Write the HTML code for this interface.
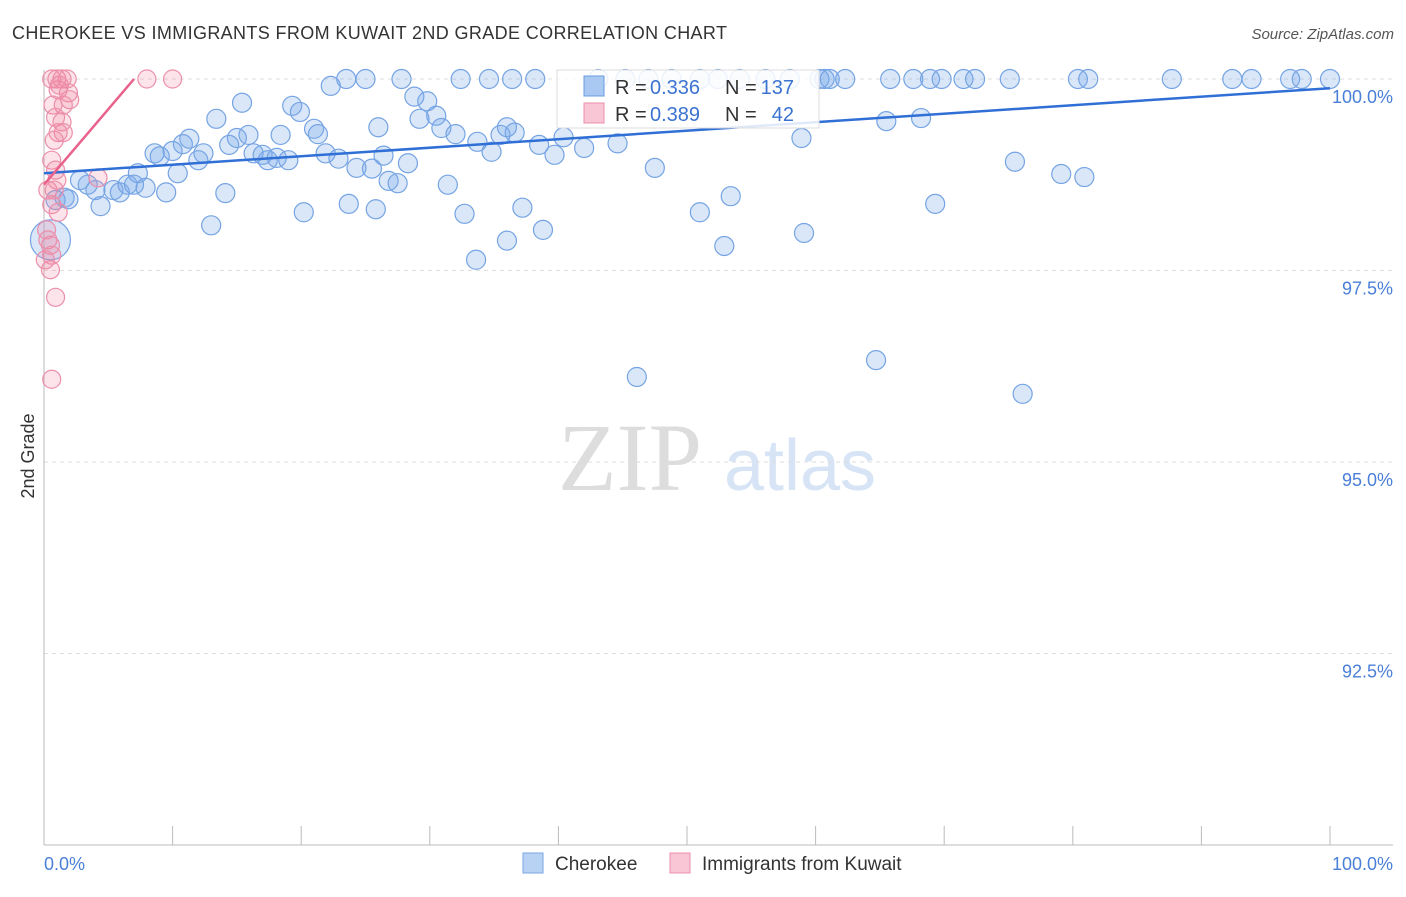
<!DOCTYPE html>
<html><head><meta charset="utf-8"><style>
body{margin:0;background:#fff;font-family:"Liberation Sans",sans-serif}
</style></head><body>
<svg width="1406" height="892" xmlns="http://www.w3.org/2000/svg" id="chart">
<text x="12" y="39" font-size="18" fill="#333" letter-spacing="0.37">CHEROKEE VS IMMIGRANTS FROM KUWAIT 2ND GRADE CORRELATION CHART</text>
<text x="1394" y="39" font-size="15" fill="#555" text-anchor="end" font-style="italic">Source: ZipAtlas.com</text>
<text x="630" y="490" font-size="96" fill="#ddd" text-anchor="middle" font-family="Liberation Serif,serif">ZIP</text>
<text x="800" y="490" font-size="72" fill="#d6e4f5" text-anchor="middle">atlas</text>
<g id="grid"></g><g id="axes"></g><g id="pts"></g><g id="trend"></g>
<text transform="translate(34,456) rotate(-90)" font-size="18" fill="#333" text-anchor="middle">2nd Grade</text>
<g>
<rect x="557" y="70" width="262" height="58" fill="#fff" fill-opacity="0.85" stroke="#ddd"/>
<rect x="584" y="76" width="20" height="20" fill="#a9c8f2" stroke="#6b9de0"/>
<text x="615" y="94" font-size="20" fill="#333">R =</text>
<text x="650" y="94" font-size="20" fill="#3b73d1">0.336</text>
<text x="725" y="94" font-size="20" fill="#333">N =</text>
<text x="794" y="94" font-size="20" fill="#3b73d1" text-anchor="end">137</text>
<rect x="584" y="103" width="20" height="20" fill="#f8c6d4" stroke="#ec8fab"/>
<text x="615" y="121" font-size="20" fill="#333">R =</text>
<text x="650" y="121" font-size="20" fill="#3b73d1">0.389</text>
<text x="725" y="121" font-size="20" fill="#333">N =</text>
<text x="794" y="121" font-size="20" fill="#3b73d1" text-anchor="end">42</text>
</g>
<g>
<rect x="523" y="853" width="20" height="20" fill="#b8d2f4" stroke="#7aa6e2"/>
<text x="555" y="870" font-size="19" fill="#333">Cherokee</text>
<rect x="670" y="853" width="20" height="20" fill="#f8c6d4" stroke="#ec8fab"/>
<text x="702" y="870" font-size="19" fill="#333">Immigrants from Kuwait</text>
</g>
</svg>
<script>
const blueX=[23.5,25.0,27.8,32.4,34.6,36.4,38.2,43.1,45.2,47.0,48.8,51.0,52.4,54.1,56.1,58.0,60.3,60.7,61.1,62.3,65.8,67.6,68.9,69.8,71.5,72.4,75.1,80.4,81.2,87.7,92.4,93.9,96.9,97.8,100,
22.3,28.8,29.8,15.4,19.3,19.9,13.4,29.2,30.5,30.9,21.0,21.3,32.0,26.0,11.3,15.0,15.9,18.4,10.8,14.4,33.7,35.5,36.6,38.5,40.4,44.6,42.0,8.6,9.0,10.0,12.4,16.3,17.0,17.4,18.1,19.0,21.9,22.9,26.4,28.3,34.8,39.7,24.3,25.5,12.0,7.3,10.4,47.5,75.5,79.1,80.9,2.8,3.4,4.0,5.4,5.9,6.5,7.0,7.9,9.5,14.1,26.8,27.5,31.4,53.4,4.4,20.2,23.7,25.8,32.7,37.2,51.0,69.3,13.0,36.0,38.8,52.9,59.1,33.6,65.5,68.2,58.9,36.0,46.1,64.7,76.1,1.6,0.9,1.9,0.5];
const blueY=[100,100,100,100,100,100,100,100,100,100,100,100,100,100,100,100,100,100,100,100,100,100,100,100,100,100,100,100,100,100,100,100,100,100,100,
99.91,99.77,99.71,99.69,99.65,99.57,99.48,99.48,99.52,99.36,99.35,99.28,99.28,99.37,99.22,99.23,99.27,99.27,99.15,99.14,99.18,99.27,99.30,99.14,99.24,99.16,99.10,99.03,98.99,99.06,99.03,99.03,99.01,98.94,98.97,98.94,99.03,98.96,99.00,98.90,99.05,99.01,98.84,98.83,98.94,98.77,98.77,98.84,98.92,98.76,98.72,98.68,98.62,98.55,98.55,98.52,98.62,98.62,98.58,98.52,98.51,98.67,98.64,98.62,98.47,98.34,98.26,98.37,98.30,98.24,98.32,98.26,98.37,98.09,97.89,98.03,97.82,97.99,97.64,99.45,99.49,99.23,99.37,96.11,96.33,95.89,98.45,98.42,98.43,97.90];
const pinkX=[8.0,10.0,0.6,1.0,1.4,1.8,1.1,1.9,2.0,1.5,0.7,0.9,1.4,1.1,1.5,0.8,0.6,0.9,0.3,0.6,1.1,4.2,1.0,0.3,0.5,0.6,0.5,0.9,0.6,0.2,1.2,0.1,0.8];
const pinkY=[100,100,100,100,100,100,99.86,99.82,99.73,99.66,99.66,99.50,99.44,99.30,99.30,99.20,98.94,98.81,98.55,98.36,98.26,98.71,98.68,97.90,97.83,97.70,97.51,97.15,96.08,98.03,99.92,97.64,98.55];
const yTicks=[100,97.5,95,92.5];
const yTickLabels=["100.0%","97.5%","95.0%","92.5%"];
const xTicks=[0,10,20,30,40,50,60,70,80,90,100];
const blueTrend=[[0,98.77],[100,99.88]];
const pinkTrend=[[0,98.62],[7.0,100]];
const NS="http://www.w3.org/2000/svg";
const sx=v=>44+v*12.86, sy=v=>79+(100-v)*76.6;
function mk(tag,at,parent){const e=document.createElementNS(NS,tag);for(const k in at)e.setAttribute(k,at[k]);document.getElementById(parent).appendChild(e);return e;}
yTicks.forEach((t,i)=>{
 const l=mk('line',{x1:44,x2:1393,y1:sy(t),y2:sy(t),stroke:'#ddd','stroke-dasharray':'4,4'},'grid');
 
 
 const tx=mk('text',{x:1393,y:sy(t)+24,'font-size':18,fill:'#4a7fd8','text-anchor':'end'},'grid');
 tx.textContent=yTickLabels[i];
 
 
});
const ya=mk('line',{x1:44,x2:44,y1:70,y2:845,stroke:'#bbb'},'axes');


const xa=mk('line',{x1:44,x2:1393,y1:845,y2:845,stroke:'#bbb'},'axes');


xTicks.forEach(t=>{
 const l=mk('line',{x1:sx(t),x2:sx(t),y1:826,y2:845,stroke:'#bbb'},'axes');
 
 
});
const x0=mk('text',{x:44,y:870,'font-size':18,fill:'#4a7fd8'},'axes');x0.textContent='0.0%';


const x1=mk('text',{x:1393,y:870,'font-size':18,fill:'#4a7fd8','text-anchor':'end'},'axes');x1.textContent='100.0%';


blueX.forEach((v,i)=>{
 const big=(i===blueX.length-1);
 const c=mk('circle',{cx:sx(v),cy:sy(blueY[i]),r:big?20:9.5,fill:'rgba(120,168,235,0.28)',stroke:'#76a4e3','stroke-width':1.2},'pts');
 
 
});
pinkX.forEach((v,i)=>{
 const c=mk('circle',{cx:sx(v),cy:sy(pinkY[i]),r:9,fill:'rgba(240,130,160,0.22)',stroke:'#ec8fab','stroke-width':1.2},'pts');
 
 
});
const bt=mk('line',{x1:sx(blueTrend[0][0]),y1:sy(blueTrend[0][1]),x2:sx(blueTrend[1][0]),y2:sy(blueTrend[1][1]),stroke:'#2f6fd6','stroke-width':2.5},'trend');


const pt=mk('line',{x1:sx(pinkTrend[0][0]),y1:sy(pinkTrend[0][1]),x2:sx(pinkTrend[1][0]),y2:sy(pinkTrend[1][1]),stroke:'#e8628c','stroke-width':2.5},'trend');


</script>
</body></html>
